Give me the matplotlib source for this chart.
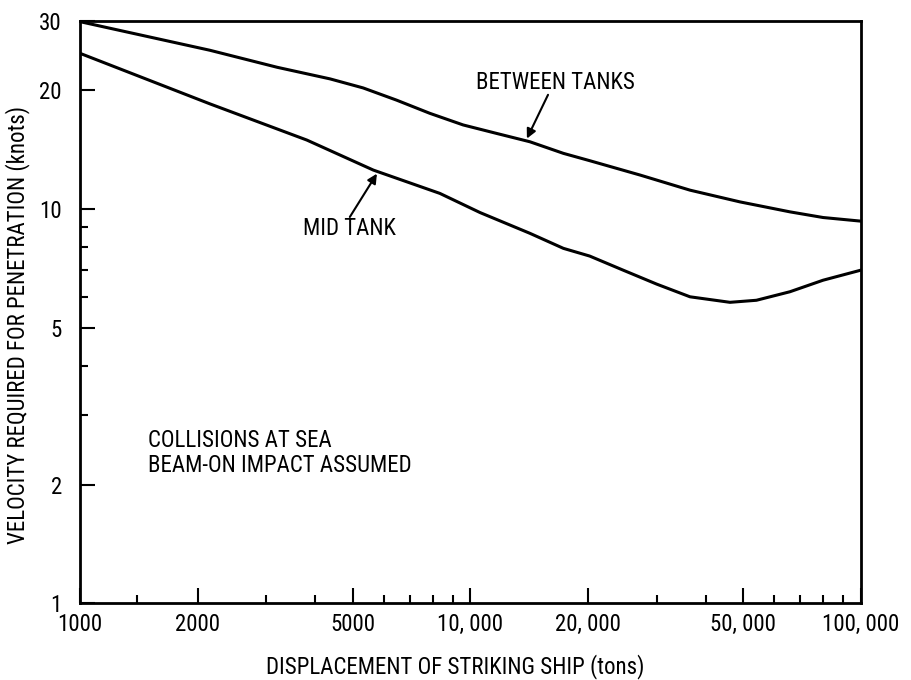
import matplotlib.pyplot as plt
from matplotlib.ticker import FixedLocator, FixedFormatter, NullFormatter

plt.rcParams['font.family'] = ['Roboto Condensed', 'DejaVu Sans Condensed',
                               'Liberation Sans Narrow', 'DejaVu Sans']
plt.rcParams['font.stretch'] = 'condensed'

# Values (log-log)
bt_disp = [1000, 2150, 3200, 4370, 5310, 6470, 7870, 9580, 11670, 14200,
           17300, 20200, 27200, 36500, 49000, 65800, 80000, 100000]
between_tanks = [29.9, 25.3, 22.9, 21.4, 20.3, 18.9, 17.5, 16.35, 15.56, 14.82,
                 13.85, 13.27, 12.2, 11.17, 10.43, 9.84, 9.52, 9.32]
mt_disp = [1000, 2150, 3810, 5640, 8350, 10580, 14200, 17300, 20200,
           24600, 30000, 36500, 46200, 54000, 65800, 80000, 100000]
mid_tank = [24.85, 18.5, 14.97, 12.56, 10.96, 9.8, 8.68, 7.95, 7.6,
            7.0, 6.45, 5.99, 5.80, 5.87, 6.17, 6.6, 7.0]

x_major = [1000, 2000, 5000, 10000, 20000, 50000, 100000]
x_labels = ["1000", "2000", "5000", "10, 000", "20, 000", "50, 000", "100, 000"]
x_minor = [1400, 3000, 4000, 6000, 7000, 8000, 9000,
           30000, 40000, 60000, 70000, 80000, 90000]
y_major = [1, 2, 5, 10, 20, 30]
y_labels = ["1", "2", "5", "10", "20", "30"]
y_minor = [3, 4, 6, 7, 8, 9]

fs = 16.5

fig = plt.figure(figsize=(9.12, 6.8), dpi=100)
ax = fig.add_axes([0.0877, 0.113, 0.8563, 0.856])

ax.plot(bt_disp, between_tanks, color="black", lw=2.2)
ax.plot(mt_disp, mid_tank, color="black", lw=2.2)

ax.set_xscale("log")
ax.set_yscale("log")
ax.set_xlim(1000, 100000)
ax.set_ylim(1, 30)

ax.xaxis.set_major_locator(FixedLocator(x_major))
ax.xaxis.set_major_formatter(FixedFormatter(x_labels))
ax.xaxis.set_minor_locator(FixedLocator(x_minor))
ax.xaxis.set_minor_formatter(NullFormatter())
ax.yaxis.set_major_locator(FixedLocator(y_major))
ax.yaxis.set_major_formatter(FixedFormatter(y_labels))
ax.yaxis.set_minor_locator(FixedLocator(y_minor))
ax.yaxis.set_minor_formatter(NullFormatter())

ax.tick_params(which="major", direction="in", length=11, width=1.5,
               labelsize=fs)
ax.tick_params(which="minor", direction="in", length=5.5, width=1.5)
ax.tick_params(axis="x", which="major", pad=7)
ax.tick_params(axis="y", which="major", pad=13)
for s in ax.spines.values():
    s.set_linewidth(2)

ax.set_xlabel("DISPLACEMENT OF STRIKING SHIP (tons)", fontsize=fs)
ax.set_ylabel("VELOCITY REQUIRED FOR PENETRATION (knots)", fontsize=fs)
ax.xaxis.set_label_coords(0.481, -0.088)
ax.yaxis.set_label_coords(-0.064, 0.478)

# labels with pointer arrows
arrow = dict(arrowstyle="-|>", color="black", lw=1.5, mutation_scale=14,
             shrinkA=0, shrinkB=0)
ax.text(16500, 20.9, "BETWEEN TANKS", fontsize=fs, ha="center", va="center")
ax.annotate("", xy=(13950, 15.1), xytext=(15800, 19.5), arrowprops=arrow)
ax.text(4890, 8.95, "MID TANK", fontsize=fs, ha="center", va="center")
ax.annotate("", xy=(5760, 12.3), xytext=(4910, 9.55), arrowprops=arrow)

ax.text(1494, 2.59, "COLLISIONS AT SEA", fontsize=fs, ha="left", va="center")
ax.text(1494, 2.23, "BEAM-ON IMPACT ASSUMED", fontsize=fs, ha="left",
        va="center")

fig.savefig("out.png", dpi=100)
